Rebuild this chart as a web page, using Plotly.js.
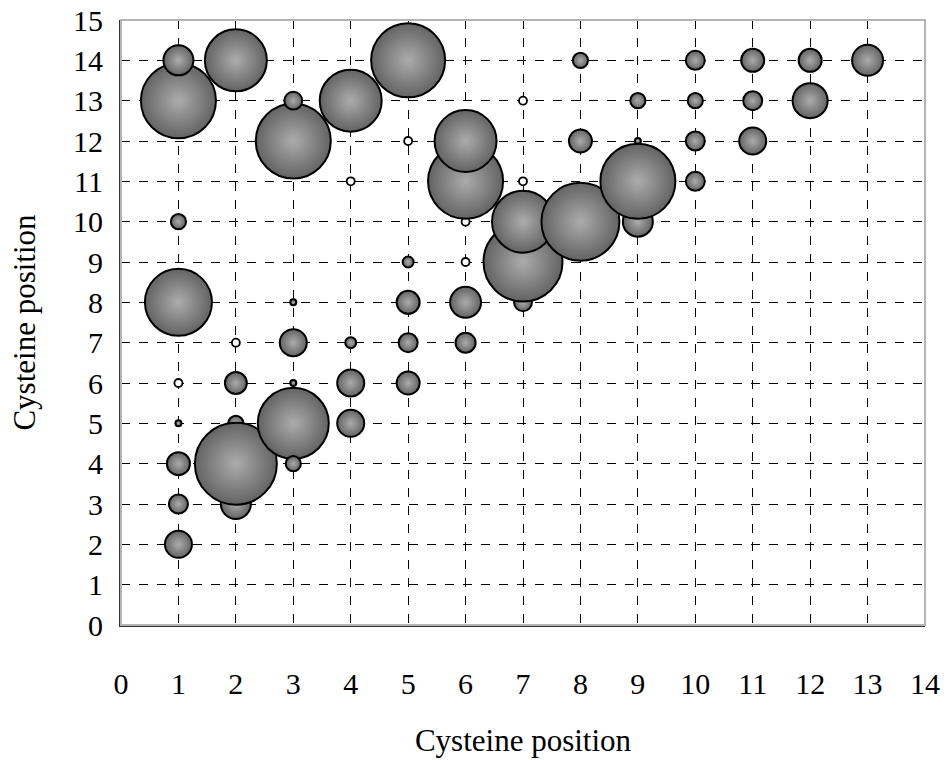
<!DOCTYPE html>
<html>
<head>
<meta charset="utf-8">
<script src="https://cdn.plot.ly/plotly-3.0.1.min.js"></script>
<style>
  html, body { margin: 0; padding: 0; background: #ffffff; }
  #chart { width: 949px; height: 760px; }
</style>
</head>
<body>
<div id="chart"></div>
<script>
// Filled bubbles: x position, y position, bubble value (area-proportional)
const bubbleX = [1,1,1,1,1,1,1,1, 2,2,2,2,2, 3,3,3,3,3,3,3, 4,4,4,4, 5,5,5,5,5, 6,6,6,6, 7,7,7, 8,8,8, 9,9,9,9, 10,10,10,10, 11,11,11, 12,12, 13];
const bubbleY = [2,3,4,5,8,10,13,14, 3,5,4,6,14, 5,4,6,7,8,12,13, 5,6,7,13, 6,7,8,9,14, 7,8,11,12, 8,9,10, 10,12,14, 10,12,11,13, 11,12,13,14, 12,13,14, 13,14, 14];
const bubbleValue = [
  7.3, 3.6, 5.3, 0.09, 44.9, 2.3, 56.3, 9.0,
  9.0, 2.3, 67.2, 4.8, 38.4,
  50.4, 2.3, 0.09, 7.3, 0.09, 56.3, 3.2,
  7.3, 7.3, 1.2, 38.4,
  5.3, 3.6, 5.3, 1.2, 54.8,
  4.0, 9.6, 56.3, 38.4,
  3.2, 62.4, 38.4,
  60.8, 5.3, 2.3,
  9.0, 0.16, 56.3, 2.3,
  3.6, 3.6, 2.3, 3.6,
  7.3, 3.6, 5.3,
  12.3, 5.3,
  9.6
];
// Open (hollow) markers
const openX = [1, 2, 4, 5, 6, 6, 7, 7];
const openY = [6, 7, 11, 12, 9, 10, 11, 13];

const xTicks = [0,1,2,3,4,5,6,7,8,9,10,11,12,13,14];
const yTicks = [0,1,2,3,4,5,6,7,8,9,10,11,12,13,14,15];
const axisTitle = 'Cysteine position';

const FONT = 'Liberation Serif, Times New Roman, serif';

const traces = [
  {
    type: 'scatter', mode: 'markers',
    x: openX, y: openY,
    marker: { size: 8, color: '#ffffff', line: { color: '#000000', width: 1.8 } },
    hoverinfo: 'x+y', showlegend: false
  },
  {
    type: 'scatter', mode: 'markers',
    x: bubbleX, y: bubbleY,
    text: bubbleValue.map(String),
    marker: {
      size: bubbleValue,
      sizemode: 'area',
      sizeref: 0.02,
      sizemin: 3,
      color: '#636363',
      gradient: { type: 'radial', color: '#acacac' },
      line: { color: '#000000', width: 2 },
      opacity: 1
    },
    hoverinfo: 'x+y+text', showlegend: false
  }
];

const axisCommon = {
  showgrid: true,
  gridcolor: '#000000',
  gridwidth: 1,
  griddash: 'dash',
  zeroline: false,
  showline: true,
  linecolor: '#333333',
  linewidth: 2,
  ticks: '',
  tickfont: { family: FONT, size: 30, color: '#000000' },
  automargin: false,
  fixedrange: true
};

const layout = {
  width: 949, height: 760,
  margin: { l: 121, r: 24, t: 20, b: 135 },
  paper_bgcolor: '#ffffff',
  plot_bgcolor: '#ffffff',
  font: { family: FONT, color: '#000000' },
  xaxis: Object.assign({}, axisCommon, {
    range: [0, 14],
    tickmode: 'array', tickvals: xTicks, ticktext: xTicks.map(String),
    ticklabelstandoff: 31,
    title: { text: axisTitle, font: { family: FONT, size: 31, color: '#000000' }, standoff: 30 }
  }),
  yaxis: Object.assign({}, axisCommon, {
    range: [0, 15],
    tickmode: 'array', tickvals: yTicks, ticktext: yTicks.map(String),
    ticklabelstandoff: 10,
    title: { text: axisTitle, font: { family: FONT, size: 31, color: '#000000' }, standoff: 28 }
  }),
  shapes: [
    { type: 'rect', xref: 'paper', yref: 'paper', x0: 0, x1: 1, y0: 0, y1: 1,
      line: { color: '#b4b4b4', width: 2 }, fillcolor: 'rgba(0,0,0,0)', layer: 'above' }
  ],
  hovermode: 'closest'
};

Plotly.newPlot('chart', traces, layout, { displayModeBar: false, staticPlot: false });
</script>
</body>
</html>
